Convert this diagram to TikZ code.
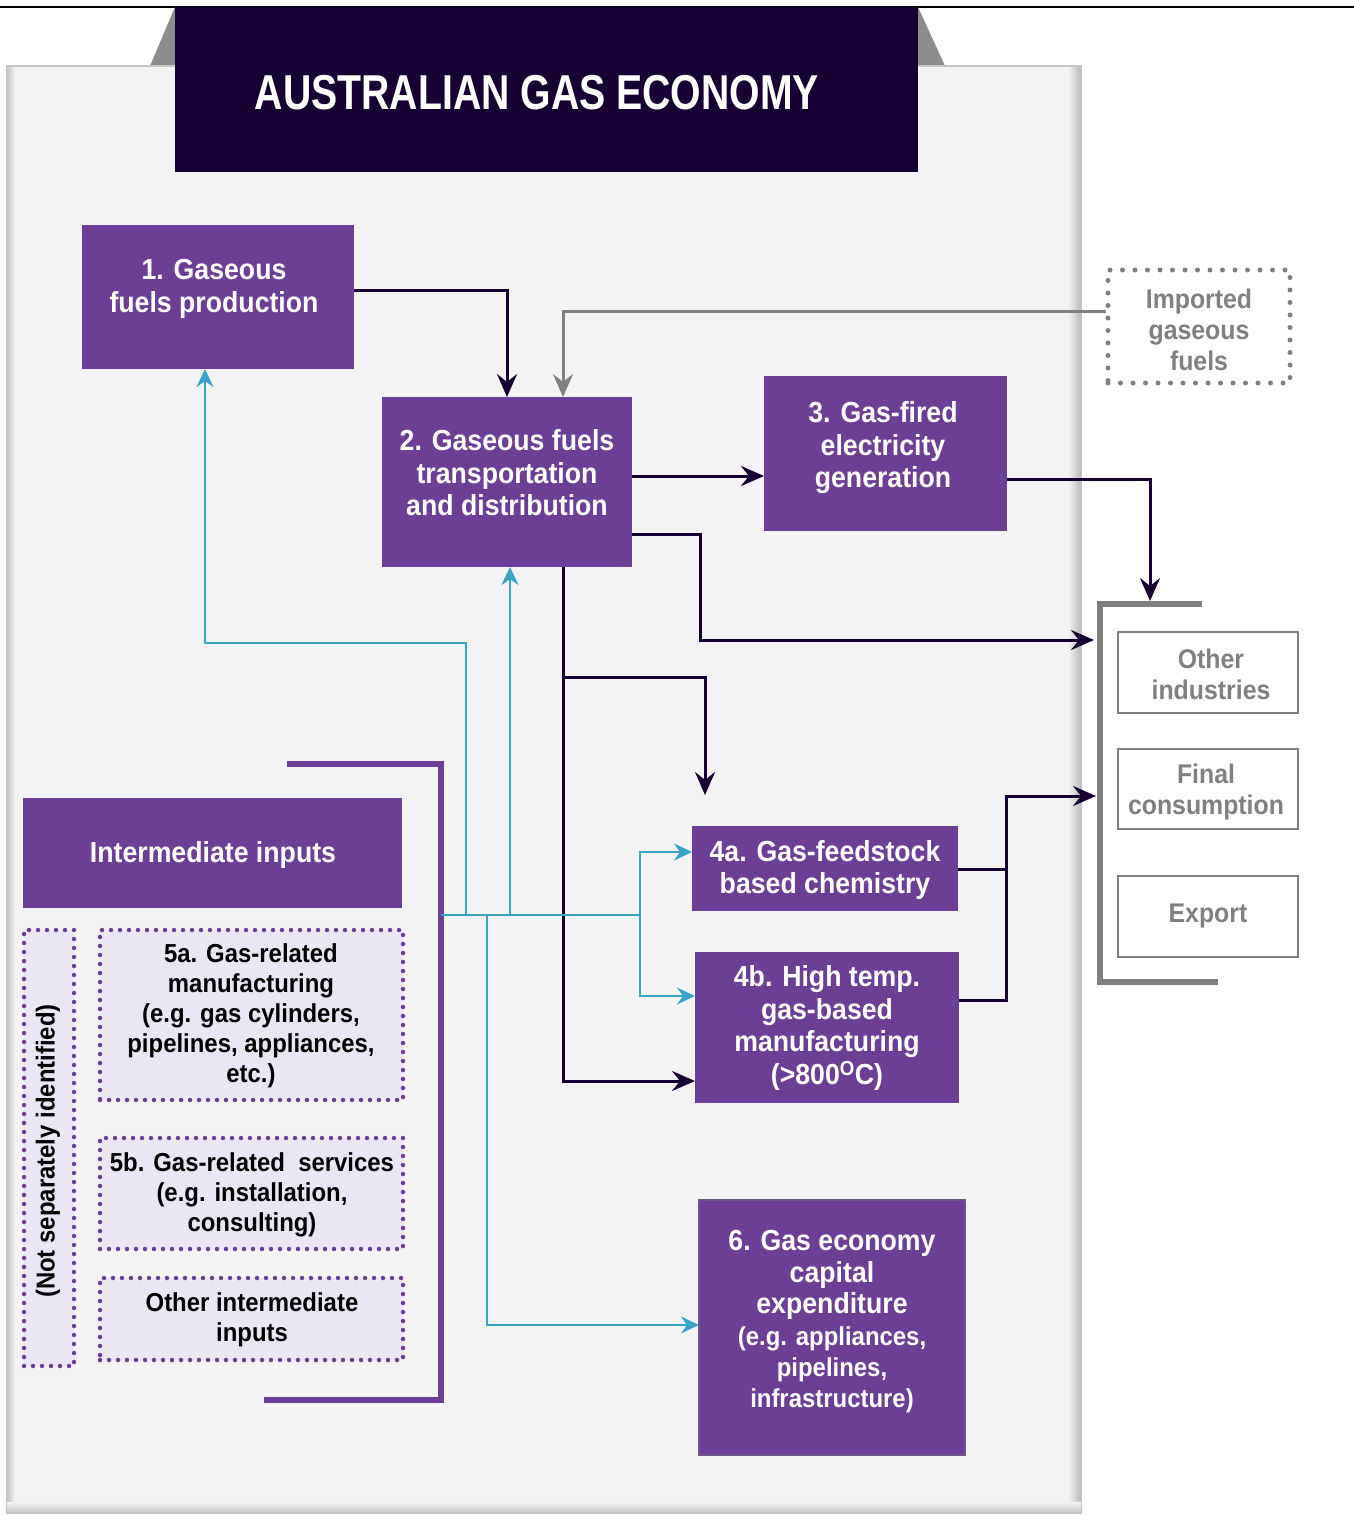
\documentclass[tikz,border=0pt]{standalone}
\usepackage{fontspec}
\setmainfont{Liberation Sans}
\newfontfamily\nar[FakeStretch=0.92]{Liberation Sans}
\newfontfamily\titlefont[FakeStretch=0.8]{Liberation Sans}
\usetikzlibrary{arrows.meta}
\definecolor{gpurple}{RGB}{108,63,150}
\definecolor{gnavy}{RGB}{22,0,51}
\definecolor{gpanel}{RGB}{243,243,243}
\definecolor{ggrey}{RGB}{128,128,128}
\definecolor{gtab}{RGB}{140,140,140}
\definecolor{gblue}{RGB}{58,163,200}
\definecolor{glav}{RGB}{235,230,243}
\tikzset{
  pbox/.style={fill=gpurple, inner sep=0pt, outer sep=0pt},
  gbox/.style={draw=ggrey, line width=2.5pt, fill=white, inner sep=0pt, outer sep=0pt},
  dotbox/.style={draw=gpurple, fill=glav, line width=4.5pt, line cap=round, dash pattern=on 0pt off 9pt, inner sep=0pt, outer sep=0pt},
  ptext/.style={text=white, font=\nar\bfseries\fontsize{29}{32.5}\selectfont, align=center, inner sep=0pt, yshift=-3pt},
  gtext/.style={text=ggrey, font=\nar\bfseries\fontsize{27}{31}\selectfont, align=center, inner sep=0pt, yshift=-1.5pt},
  ktext/.style={text=black, font=\nar\bfseries\fontsize{26}{30}\selectfont, align=center, inner sep=0pt, yshift=-3pt},
  dline/.style={draw=gnavy, line width=3pt},
  darr/.style={dline, -{Stealth[length=23pt,width=20pt,inset=8pt]}},
  garr/.style={draw=ggrey, line width=3pt, -{Stealth[length=23pt,width=20pt,inset=8pt]}},
  bline/.style={draw=gblue, line width=2.5pt},
  barr/.style={bline, -{Stealth[length=18pt,width=17pt,inset=6pt]}},
}
\begin{document}
\begin{tikzpicture}[x=1pt,y=-1pt]
\useasboundingbox (0,0) rectangle (1354,1515);
% top rule and tabs
\draw[black, line width=2.5pt] (0,7) -- (1354,7);
\fill[gtab] (150,66) -- (175,7) -- (918,7) -- (945,66) -- cycle;
% panel
\fill[gray!45] (6,65) rectangle (1082,1514);
\fill[gpanel] (8,67) rectangle (1080,1512);
\shade[left color=gpanel, right color=gray!55] (1068,67) rectangle (1081,1512);
\shade[left color=gray!45, right color=gpanel] (7,67) rectangle (15,1512);
\shade[top color=gpanel, bottom color=gray!45] (7,1502) rectangle (1081,1513);
% title
\node[fill=gnavy, minimum width=743, minimum height=165, inner sep=0pt] (title) at (546.5,89.5) {};
\node[text=white, font=\titlefont\bfseries\fontsize{49}{52}\selectfont, inner sep=0pt] (titletext) at (537,93) {AUSTRALIAN GAS ECONOMY};

% main boxes
\node[pbox, minimum width=272, minimum height=144] (b1) at (218,297) {};
\node[ptext] (t1) at (214,286) {1. Gaseous\\fuels production};
\node[pbox, minimum width=250, minimum height=170] (b2) at (507,482) {};
\node[ptext] (t2) at (507,470) {2. Gaseous fuels\\transportation\\and distribution};
\node[pbox, minimum width=243, minimum height=155] (b3) at (885.5,453.5) {};
\node[ptext] (t3) at (883,445) {3. Gas-fired\\electricity\\generation};
\node[pbox, minimum width=266, minimum height=85] (b4a) at (825,868.5) {};
\node[ptext] (t4a) at (825,867) {4a. Gas-feedstock\\based chemistry};
\node[pbox, minimum width=264, minimum height=151] (b4b) at (827,1027.5) {};
\node[ptext] (t4b) at (827,1025) {4b. High temp.\\gas-based\\manufacturing\\(>800\textsuperscript{O}C)};
\node[pbox, draw={rgb,255:red,105;green,85;blue,135}, line width=1.5pt, minimum width=266, minimum height=255] (b6) at (832,1327.5) {};
\node[ptext, font=\nar\bfseries\fontsize{29}{31.4}\selectfont] (t6) at (832,1319) {6. Gas economy\\capital\\expenditure\\{\fontsize{26}{30}\selectfont (e.g. appliances,}\\{\fontsize{26}{30}\selectfont pipelines,}\\{\fontsize{26}{30}\selectfont infrastructure)}};

% imported
\node[draw=ggrey, line width=5pt, line cap=round, dash pattern=on 0pt off 12.5pt, minimum width=182, minimum height=113, inner sep=0pt] (imp) at (1199,326.5) {};
\node[gtext] (timp) at (1199,328) {Imported\\gaseous\\fuels};

% destination bracket and boxes
\draw[ggrey, line width=6pt] (1202,604) -- (1100,604) -- (1100,982) -- (1218,982);
\coordinate (brtop) at (1150,601);
\coordinate (brl1) at (1094,640);
\coordinate (brl2) at (1096,796);
\node[gbox, minimum width=180, minimum height=81] (oth) at (1208,672.5) {};
\node[gtext] (toth) at (1211,673) {Other\\industries};
\node[gbox, minimum width=180, minimum height=80] (fin) at (1208,789) {};
\node[gtext] (tfin) at (1206,791) {Final\\consumption};
\node[gbox, minimum width=180, minimum height=81] (exp) at (1208,916.5) {};
\node[gtext] (texp) at (1208,915) {Export};

% intermediate inputs
\node[pbox, minimum width=379, minimum height=110] (ii) at (212.5,853) {};
\node[ptext] (tii) at (213,852) {Intermediate inputs};
\draw[gpurple, line width=6pt] (287,764) -- (441,764) -- (441,1400) -- (264,1400);
\node[dotbox, minimum width=50, minimum height=436] (nsi) at (49,1148) {};
\node[ktext, rotate=90, yshift=0pt] (tnsi) at (48,1148) {(Not separately identified)};
\node[dotbox, minimum width=303, minimum height=170] (b5a) at (251.5,1015) {};
\node[ktext] (t5a) at (251,1013) {5a. Gas-related\\manufacturing\\(e.g. gas cylinders,\\pipelines, appliances,\\etc.)};
\node[dotbox, minimum width=303, minimum height=111] (b5b) at (251.5,1193.5) {};
\node[ktext] (t5b) at (252,1192) {5b. Gas-related\ \ services\\(e.g. installation,\\consulting)};
\node[dotbox, minimum width=303, minimum height=82] (b5o) at (251.5,1319) {};
\node[ktext] (t5o) at (252,1317) {Other intermediate\\inputs};

% dark connectors
\draw[darr] (b1.east |- 0,290) -| (b2.north -| 507,0);
\draw[garr] (imp.west |- 0,311) -| (b2.north -| 563,0);
\draw[darr] (b2.east |- 0,476) -- (b3.west |- 0,476);
\draw[darr] (b3.east |- 0,479) -| (brtop);
\draw[darr] (b2.east |- 0,534) -| (700,640) -- (brl1);
\draw[darr] (b2.south -| 563,0) |- (b4b.west |- 0,1081);
\coordinate (c4a) at (705,795);
\draw[darr] (563,677) -| (c4a);
\draw[dline] (b4a.east |- 0,869) -- (1006,869);
\draw[darr] (b4b.east |- 0,1000) -- (1006,1000) |- (brl2);

% blue connectors
\draw[bline] (441,915) -- (640,915);
\draw[barr] (640,915) |- (b4a.west |- 0,852);
\draw[barr] (640,915) |- (b4b.west |- 0,996);
\draw[barr] (466,915) |- (205,643) -- (b1.south -| 205,0);
\draw[barr] (510,915) -- (b2.south -| 510,0);
\draw[barr] (487,915) |- (b6.west |- 0,1325);
\end{tikzpicture}
\end{document}
